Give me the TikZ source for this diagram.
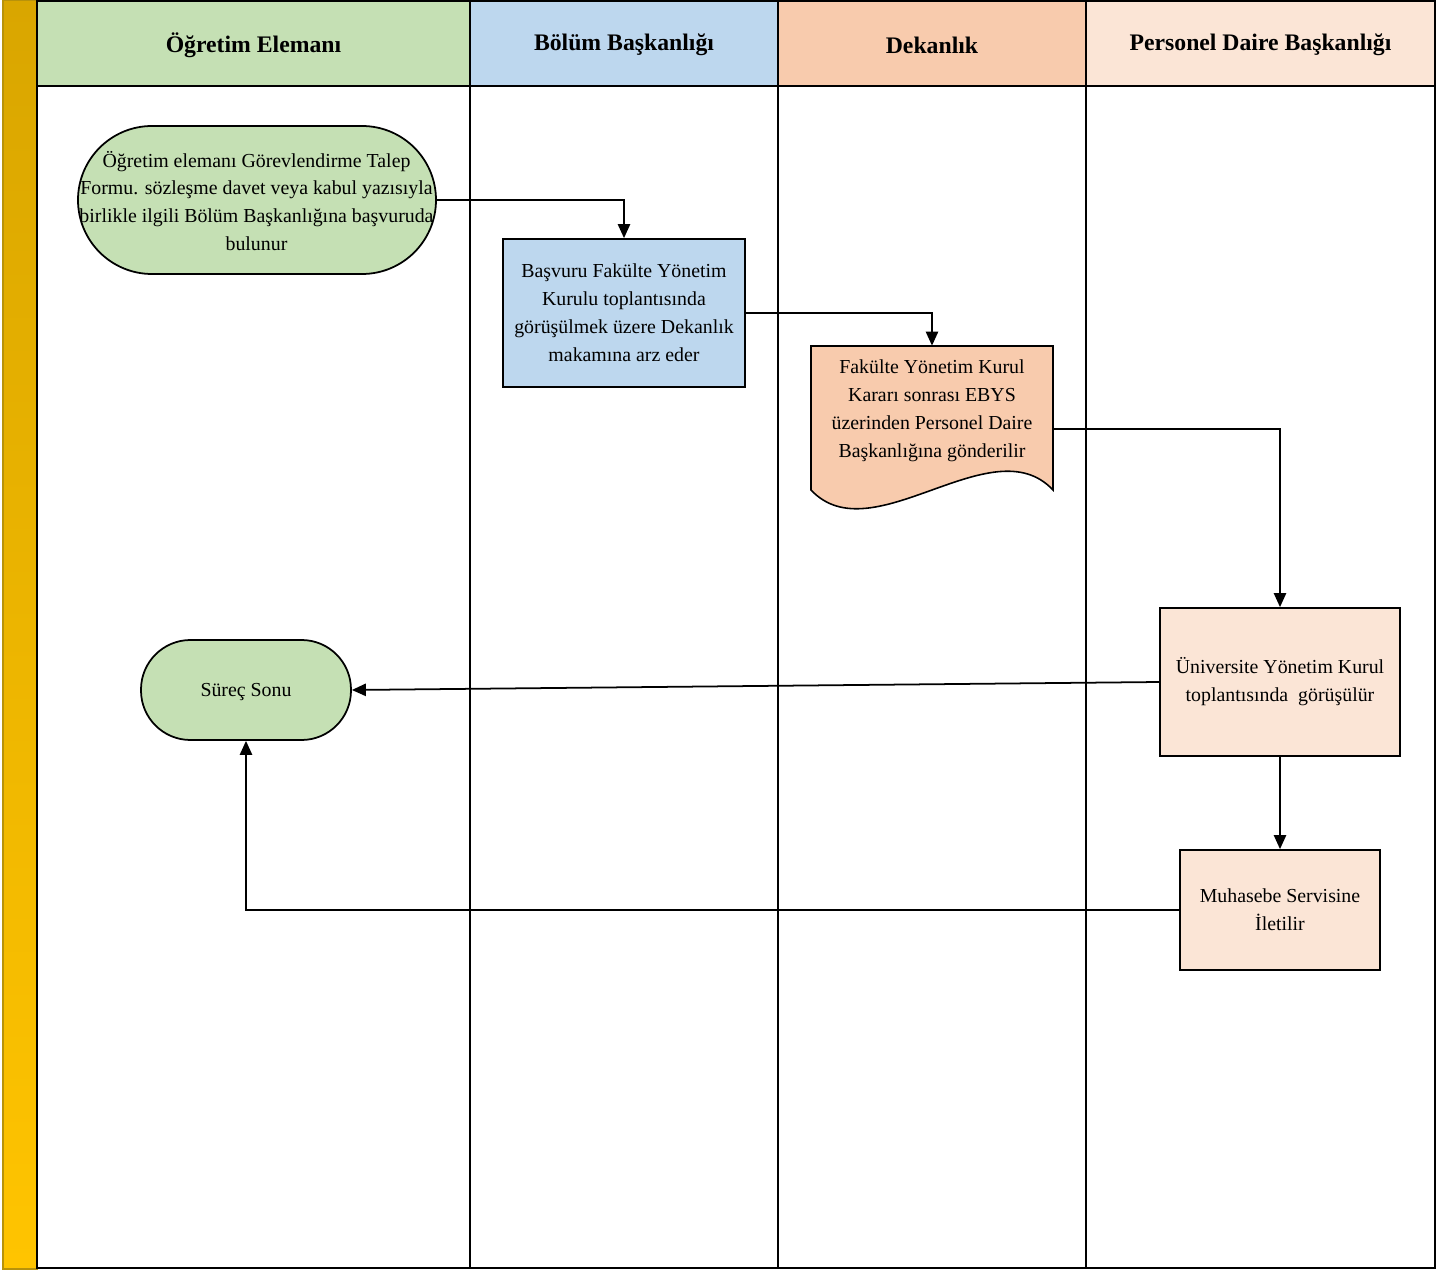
\documentclass[tikz,border=0pt]{standalone}
\usepackage{fontspec}
\setmainfont{Liberation Serif}
\usetikzlibrary{arrows.meta}
\definecolor{laneA}{HTML}{C5E0B4}
\definecolor{laneB}{HTML}{BDD7EE}
\definecolor{laneC}{HTML}{F8CBAD}
\definecolor{laneD}{HTML}{FBE5D6}
\definecolor{goldtop}{HTML}{D9A600}
\definecolor{goldbot}{HTML}{FFC400}
\definecolor{goldline}{HTML}{B8920A}
\tikzset{
  lane/.style={draw=black,line width=1pt},
  head/.style={font=\fontsize{13.5}{16}\selectfont\bfseries},
  txt/.style={align=center,font=\fontsize{11.3}{15.9}\selectfont,inner sep=0pt},
  procbox/.style={draw=black,line width=1pt,txt},
  flow/.style={draw=black,line width=1pt,-{Triangle[length=8pt,width=7pt]}}
}
\begin{document}
\begin{tikzpicture}[x=0.02cm,y=-0.02cm]
\useasboundingbox (0,0) rectangle (1445,1270);
% side bar
\shade[top color=goldtop,bottom color=goldbot,draw=goldline,line width=0.6pt] (3,0) rectangle (37,1269);
% lane headers
\fill[laneA] (37,0) rectangle (470,86);
\fill[laneB] (470,0) rectangle (778,86);
\fill[laneC] (778,0) rectangle (1086,86);
\fill[laneD] (1086,0) rectangle (1435,86);
\node[head] (hA) at (253.5,45) {Öğretim Elemanı};
\node[head] (hB) at (624,45) {Bölüm Başkanlığı};
\node[head] (hC) at (932,45) {Dekanlık};
\node[head] (hD) at (1260.5,45) {Personel Daire Başkanlığı};
% lane frame
\draw[lane] (37,1) -- (1435,1) -- (1435,1268) -- (37,1268) -- cycle;
\draw[lane] (37,86) -- (1435,86);
\draw[lane] (470,1) -- (470,1268);
\draw[lane] (778,1) -- (778,1268);
\draw[lane] (1086,1) -- (1086,1268);
% process shapes
\node[procbox,fill=laneA,rounded corners=1.48cm,minimum width=358*0.02cm,minimum height=148*0.02cm] (start) at (257,200)
  {};
\node[txt] (starttext) at (256.5,201)
  {Öğretim elemanı Görevlendirme Talep\\Formu. sözleşme davet veya kabul yazısıyla\\birlikle ilgili Bölüm Başkanlığına başvuruda\\bulunur};
\node[procbox,fill=laneB,minimum width=242*0.02cm,minimum height=148*0.02cm] (basvuru) at (624,313)
  {Başvuru Fakülte Yönetim\\Kurulu toplantısında\\görüşülmek üzere Dekanlık\\makamına arz eder};
\draw[fill=laneC,draw=black,line width=0.9pt] (811,346) -- (1053,346) -- (1053,490)
  .. controls (992,425) and (872,555) .. (811,490) -- cycle;
\node[txt,minimum width=242*0.02cm,minimum height=166*0.02cm] (doc) at (932,429) {};
\node[txt] (doctext) at (932,411)
  {Fakülte Yönetim Kurul\\Kararı sonrası EBYS\\üzerinden Personel Daire\\Başkanlığına gönderilir};
\node[procbox,fill=laneD,minimum width=240*0.02cm,minimum height=148*0.02cm] (uyk) at (1280,682)
  {Üniversite Yönetim Kurul\\toplantısında\ \ görüşülür};
\node[procbox,fill=laneD,minimum width=200*0.02cm,minimum height=120*0.02cm] (muh) at (1280,910)
  {Muhasebe Servisine\\İletilir};
\node[procbox,fill=laneA,rounded corners=0.99cm,minimum width=210*0.02cm,minimum height=100*0.02cm] (son) at (246,690)
  {};
\node[txt] (sontext) at (246,692) {Süreç Sonu};
% connectors
\draw[flow] (start.east) -| (basvuru.north);
\draw[flow] (basvuru.east) -| (doc.north);
\draw[flow] (doc.east) -| (uyk.north);
\draw[flow] (uyk.west) -- (son.east);
\draw[flow] (uyk.south) -- (muh.north);
\draw[flow] (muh.west) -| (son.south);
\end{tikzpicture}
\end{document}
